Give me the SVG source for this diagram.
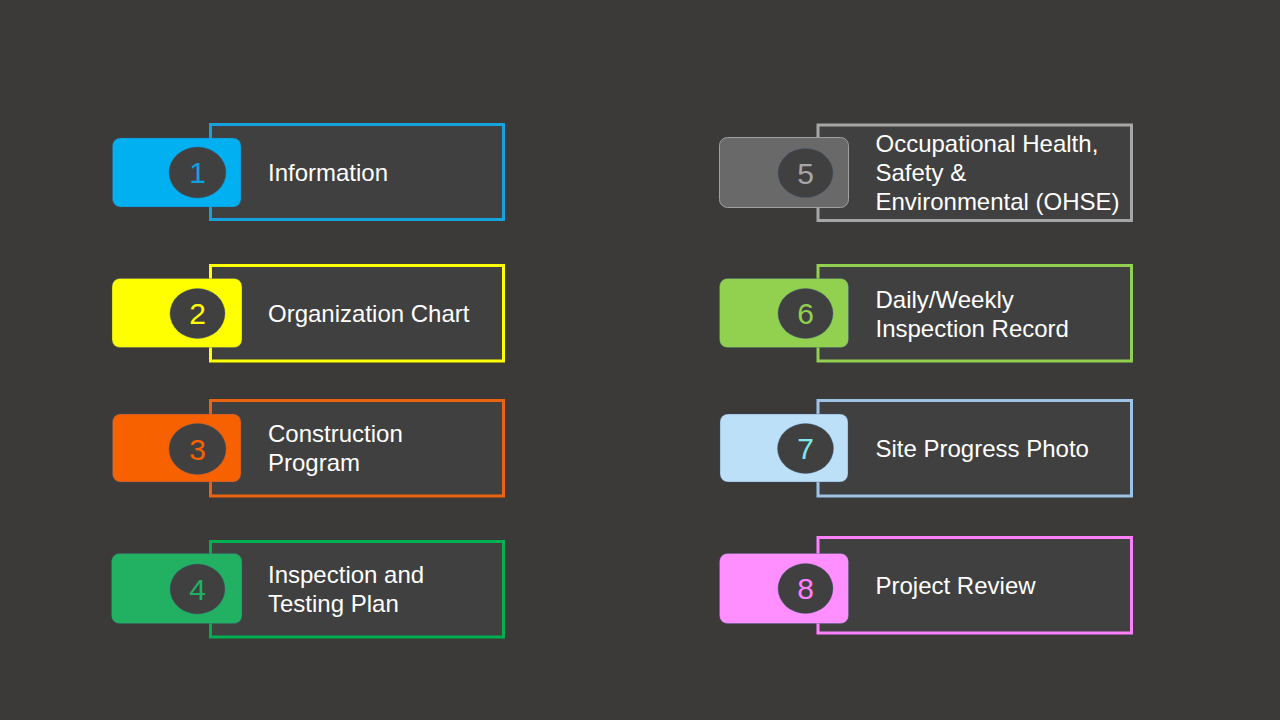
<svg xmlns="http://www.w3.org/2000/svg" width="1280" height="720" viewBox="0 0 1280 720">
<style>
.box{fill:#404040;stroke-width:3}
.tab{stroke:#3d5a80;stroke-width:0.6;stroke-opacity:0.6}
.circ{fill:#404040;stroke:#3d5a80;stroke-width:0.6;stroke-opacity:0.6}
.num{font-family:"Liberation Sans",Arial,sans-serif;font-size:30px;text-anchor:middle}
.lbl{font-family:"Liberation Sans",Arial,sans-serif;font-size:24px;fill:#ffffff}
</style>
<rect width="1280" height="720" fill="#3b3a38"/>
<g id="node1">
<rect class="box" x="210.5" y="124.5" width="293" height="95" stroke="#16a2dc"/>
<rect class="tab" x="112.5" y="138" width="128.5" height="69" rx="8" fill="#00b0f0"/>
<ellipse class="circ" cx="197.5" cy="172.5" rx="28.5" ry="25.5"/>
<text class="num" x="197.5" y="183" fill="#0aa3e0">1</text>
<text class="lbl" x="268" y="181">Information</text>
</g>
<g id="node2">
<rect class="box" x="210.5" y="265.5" width="293" height="95.5" stroke="#ffff00"/>
<rect class="tab" x="112" y="278.5" width="130" height="69" rx="8" fill="#ffff00"/>
<ellipse class="circ" cx="197.5" cy="313.5" rx="27.5" ry="25"/>
<text class="num" x="197.5" y="324" fill="#ffff00">2</text>
<text class="lbl" x="268" y="322">Organization Chart</text>
</g>
<g id="node3">
<rect class="box" x="210.5" y="400.5" width="293" height="95.5" stroke="#ea6410"/>
<rect class="tab" x="112.5" y="414" width="128.5" height="68" rx="8" fill="#f86100"/>
<ellipse class="circ" cx="197.5" cy="449" rx="28.5" ry="25.5"/>
<text class="num" x="197.5" y="459.5" fill="#f86100">3</text>
<text class="lbl" x="268" y="441.5">Construction</text>
<text class="lbl" x="268" y="471">Program</text>
</g>
<g id="node4">
<rect class="box" x="210.5" y="541.5" width="293" height="95.5" stroke="#00b050"/>
<rect class="tab" x="111.5" y="553.5" width="130.5" height="70" rx="8" fill="#22b163"/>
<ellipse class="circ" cx="197.5" cy="589" rx="27.5" ry="25"/>
<text class="num" x="197.5" y="599.5" fill="#22b163">4</text>
<text class="lbl" x="268" y="583">Inspection and</text>
<text class="lbl" x="268" y="612">Testing Plan</text>
</g>
<g id="node5">
<rect class="box" x="818" y="125" width="313.5" height="95.5" stroke="#a6a6a6"/>
<rect x="719.5" y="137.5" width="129" height="70" rx="8" fill="#696969" stroke="#a0a0a0" stroke-width="1"/>
<ellipse class="circ" cx="805.5" cy="173" rx="27.5" ry="24.5"/>
<text class="num" x="805.5" y="184" fill="#a6a6a6">5</text>
<text class="lbl" x="875.5" y="152">Occupational Health,</text>
<text class="lbl" x="875.5" y="181">Safety &amp;</text>
<text class="lbl" x="875.5" y="210">Environmental (OHSE)</text>
</g>
<g id="node6">
<rect class="box" x="818" y="265.5" width="313.5" height="95.5" stroke="#92d050"/>
<rect class="tab" x="719.5" y="278.5" width="129" height="69" rx="8" fill="#92d050"/>
<ellipse class="circ" cx="805.5" cy="313.5" rx="27.5" ry="25"/>
<text class="num" x="805.5" y="324" fill="#92d050">6</text>
<text class="lbl" x="875.5" y="307.5">Daily/Weekly</text>
<text class="lbl" x="875.5" y="336.5">Inspection Record</text>
</g>
<g id="node7">
<rect class="box" x="818" y="400.5" width="313.5" height="95.5" stroke="#9dc3e6"/>
<rect class="tab" x="720" y="414" width="128" height="68" rx="8" fill="#bde0f9"/>
<ellipse class="circ" cx="805.5" cy="448.5" rx="28" ry="25"/>
<text class="num" x="805.5" y="459" fill="#7fe8ec">7</text>
<text class="lbl" x="875.5" y="456.5">Site Progress Photo</text>
</g>
<g id="node8">
<rect class="box" x="818" y="537.5" width="313.5" height="95.5" stroke="#ff80ff"/>
<rect class="tab" x="719.5" y="553.5" width="129" height="70" rx="8" fill="#ff8eff"/>
<ellipse class="circ" cx="805.5" cy="588.5" rx="27.5" ry="25"/>
<text class="num" x="805.5" y="599" fill="#ff80ff">8</text>
<text class="lbl" x="875.5" y="594">Project Review</text>
</g>
<g id="connectors"></g>
</svg>
